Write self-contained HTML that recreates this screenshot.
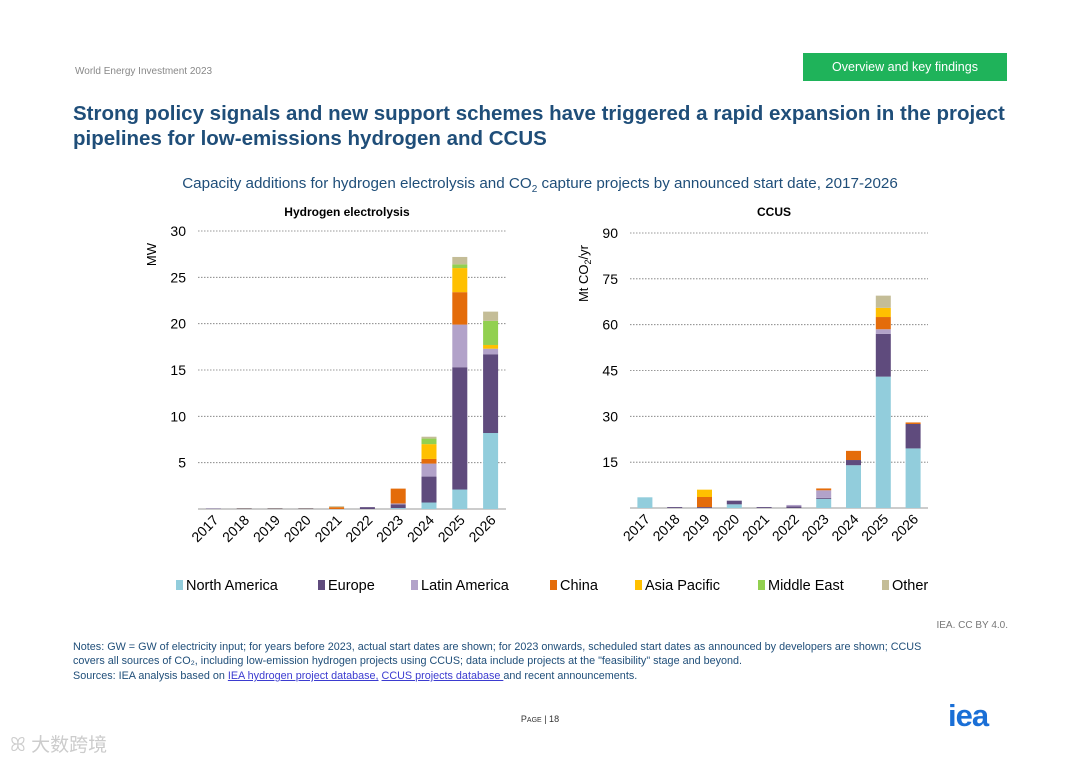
<!DOCTYPE html>
<html><head><meta charset="utf-8">
<style>
body{margin:0;width:1080px;height:763px;background:#fff;position:relative;overflow:hidden;font-family:"Liberation Sans","Noto Sans CJK SC",sans-serif;}
.abs{position:absolute;}
</style></head><body>
<div class="abs" style="left:75px;top:66px;font-size:10px;color:#888;">World Energy Investment 2023</div>
<div class="abs" style="left:803px;top:53px;width:204px;height:28px;background:#1fb35a;color:#fff;font-size:12.5px;line-height:28px;text-align:center;">Overview and key findings</div>
<div class="abs" style="left:73px;top:101px;width:960px;font-size:20.5px;font-weight:bold;color:#1f4e79;line-height:25px;">Strong policy signals and new support schemes have triggered a rapid expansion in the project pipelines for low-emissions hydrogen and CCUS</div>
<div class="abs" style="left:0;width:1080px;top:175px;text-align:center;font-size:15.2px;color:#1f4e79;">Capacity additions for hydrogen electrolysis and CO<sub style="font-size:10px">2</sub> capture projects by announced start date, 2017-2026</div>
<svg class="abs" style="left:0;top:0" width="1080" height="763" id="chart"></svg>
<div class="abs" style="left:900px;top:620px;width:108px;text-align:right;font-size:10px;color:#777;">IEA. CC BY 4.0.</div>
<div class="abs" style="left:73px;top:640px;width:960px;white-space:nowrap;font-size:10.8px;color:#1f4e79;line-height:14px;">Notes: GW = GW of electricity input; for years before 2023, actual start dates are shown; for 2023 onwards, scheduled start dates as announced by developers are shown; CCUS<br>covers all sources of CO₂, including low-emission hydrogen projects using CCUS; data include projects at the "feasibility" stage and beyond.<br><span style="display:block;margin-top:1px">Sources: IEA analysis based on <u style="color:#3b3bd0">IEA hydrogen project database,</u> <u style="color:#3b3bd0">CCUS projects database </u>and recent announcements.</span></div>
<div class="abs" style="left:500px;top:714px;width:80px;text-align:center;font-size:9px;color:#333;">P<span style="font-size:7px">AGE</span> | 18</div>
<div class="abs" style="left:948px;top:698px;font-size:31px;font-weight:bold;color:#1a6fd6;letter-spacing:-1px;">iea</div>
<div class="abs" style="left:10px;top:730px;font-size:19px;color:#ccc;">ꕤ 大数跨境</div>
<script>
const years=["2017","2018","2019","2020","2021","2022","2023","2024","2025","2026"];
const seriesNames=["North America","Europe","Latin America","China","Asia Pacific","Middle East","Other"];
const colors=["#92cddc","#5f4b7d","#b2a2c9","#e46c0a","#ffc000","#92d050","#c4bd97"];
const h2NorthAmerica=[0,0,0,0,0,0,0.1,0.7,2.1,8.2];
const h2Europe=[0.05,0.05,0.05,0.05,0,0.2,0.4,2.8,13.2,8.5];
const h2LatinAmerica=[0,0,0,0,0,0,0.1,1.4,4.6,0.6];
const h2China=[0,0,0,0,0.2,0,1.6,0.5,3.5,0];
const h2AsiaPacific=[0,0,0,0,0,0,0,1.6,2.6,0.4];
const h2MiddleEast=[0,0,0,0,0,0,0,0.6,0.4,2.6];
const h2Other=[0,0.05,0.05,0.05,0.1,0,0,0.2,0.8,1.0];
const ccNorthAmerica=[3.5,0,0,1.2,0,0,3.0,14,43,19.5];
const ccEurope=[0,0.3,0.3,1.2,0.3,0.5,0.3,1.7,14,8];
const ccLatinAmerica=[0,0,0,0,0,0.5,2.5,0,1.5,0];
const ccChina=[0,0,3.3,0,0,0,0.6,3,4,0.5];
const ccAsiaPacific=[0,0,2.4,0,0,0,0,0,3,0];
const ccMiddleEast=[0,0,0,0,0,0,0,0,0,0];
const ccOther=[0,0,0,0,0,0,0,0,4,0];
const h2Ticks=[5,10,15,20,25,30];
const ccTicks=[15,30,45,60,75,90];
const NS="http://www.w3.org/2000/svg";
const svg=document.getElementById('chart');
function mk(t,a,p){const e=document.createElementNS(NS,t);for(const k in a)e.setAttribute(k,a[k]);(p||svg).appendChild(e);return e;}
function panel(name,title,unit,x0,x1,yTop,yBot,max,ticks,series){
  const g=mk('g',{});
  
  
  const y=v=>yBot-(v/max)*(yBot-yTop);
  const step=(x1-x0)/years.length;
  const xc=i=>x0+step*(i+0.5);
  const tt=mk('text',{x:(x0+x1)/2-5,y:216,'text-anchor':'middle','font-size':12,'font-weight':'bold',fill:'#000'},g);tt.textContent=title;
  
  
  ticks.forEach(t=>{
    const l=mk('line',{x1:x0,x2:x1,y1:y(t),y2:y(t),stroke:'#777','stroke-width':0.8,'stroke-dasharray':'1.5,1.5'},g);
    
    
    const tx=mk('text',{x:x0-12,y:y(t)+5,'text-anchor':'end','font-size':14,fill:'#000'},g);tx.textContent=t;
    
    
  });
  const ax=mk('line',{x1:x0,x2:x1,y1:yBot,y2:yBot,stroke:'#999','stroke-width':1},g);
  
  
  const ut=mk('text',{x:0,y:0,transform:`translate(${x0-42},${yTop+12}) rotate(-90)`,'text-anchor':'end','font-size':13,fill:'#000'},g);ut.innerHTML=unit;
  
  
  years.forEach((yr,i)=>{
    let acc=0;
    series.forEach((s,k)=>{
      const v=s[i]; if(v<=0)return;
      const r=mk('rect',{x:xc(i)-7.5,width:15,y:y(acc+v),height:y(acc)-y(acc+v),fill:colors[k]},g);
      
      
      acc+=v;
    });
    const lb=mk('text',{x:0,y:0,transform:`translate(${xc(i)+6},${yBot+12}) rotate(-45)`,'text-anchor':'end','font-size':14,fill:'#000'},g);lb.textContent=yr;
    
    
  });
}
panel('hydrogen','Hydrogen electrolysis','MW',198,506,231,509,30,h2Ticks,[h2NorthAmerica,h2Europe,h2LatinAmerica,h2China,h2AsiaPacific,h2MiddleEast,h2Other]);
panel('ccus','CCUS','Mt CO<tspan font-size="9" dy="3">2</tspan><tspan dy="-3">/yr</tspan>',630,928,233,508,90,ccTicks,[ccNorthAmerica,ccEurope,ccLatinAmerica,ccChina,ccAsiaPacific,ccMiddleEast,ccOther]);
const lx=[176,318,411,550,635,758,882];
seriesNames.forEach((n,k)=>{
  const r=mk('rect',{x:lx[k],y:580,width:7,height:10,fill:colors[k]});
  
  
  const t=mk('text',{x:lx[k]+10,y:590,'font-size':14.5,fill:'#000'});t.textContent=n;
  
  
});
</script>
</body></html>
